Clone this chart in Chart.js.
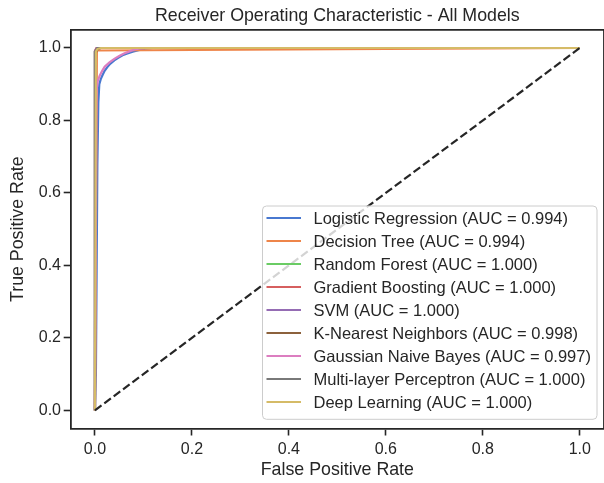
<!DOCTYPE html>
<html>
<head>
<meta charset="utf-8">
<title>ROC - All Models</title>
<script src="https://cdn.jsdelivr.net/npm/chart.js@4.4.0/dist/chart.umd.min.js"></script>
<style>
  html, body { margin: 0; padding: 0; background: #fff; }
  #wrap { width: 604px; height: 483px; }
</style>
</head>
<body>
<div id="wrap"><canvas id="rocChart" width="604" height="483"></canvas></div>
<script>
// Model names and AUC values (legend order)
const modelNames = [
    'Logistic Regression', 'Decision Tree', 'Random Forest', 'Gradient Boosting', 'SVM',
    'K-Nearest Neighbors', 'Gaussian Naive Bayes', 'Multi-layer Perceptron', 'Deep Learning'
];
const aucValues = ['0.994', '0.994', '1.000', '1.000', '1.000', '0.998', '0.997', '1.000', '1.000'];
const modelColors = ['#4878d0', '#ee854a', '#6acc64', '#d65f5f', '#956cb4', '#8c613c', '#dc7ec0', '#797979', '#d5bb67'];

// ROC points
const fprLogistic = [0, 0.002, 0.005, 0.007, 0.009, 0.012, 0.016, 0.02, 0.026, 0.032, 0.04, 0.048, 0.057, 0.067, 0.078, 0.09, 0.104, 0.12, 1];
const tprLogistic = [0, 0.10, 0.68, 0.85, 0.90, 0.914, 0.926, 0.937, 0.948, 0.957, 0.966, 0.973, 0.980, 0.985, 0.990, 0.994, 0.998, 1, 1];
const fprTree = [0, 0.004, 1];
const tprTree = [0, 0.993, 1];
const fprForest = [0, 0, 0.004, 1];
const tprForest = [0, 0.99, 1, 1];
const fprBoosting = [0, 0, 0.003, 1];
const tprBoosting = [0, 0.992, 1, 1];
const fprSvm = [0, 0, 0.004, 1];
const tprSvm = [0, 0.99, 1, 1];
const fprKnn = [0, 0.001, 0.005, 0.012, 1];
const tprKnn = [0, 0.985, 0.996, 1, 1];
const fprBayes = [0, 0.003, 0.006, 0.01, 0.015, 0.02, 0.03, 0.04, 0.05, 0.06, 0.07, 0.08, 0.092, 0.11, 1];
const tprBayes = [0, 0.88, 0.91, 0.924, 0.937, 0.948, 0.960, 0.970, 0.978, 0.985, 0.990, 0.995, 0.999, 1, 1];
const fprMlp = [0, 0, 0.005, 1];
const tprMlp = [0, 0.99, 1, 1];
const fprDeep = [0, 0.002, 0.005, 0.012, 1];
const tprDeep = [0, 0.99, 0.997, 1, 1];
const fprChance = [0, 1];
const tprChance = [0, 1];

const xTicks = [0, 0.2, 0.4, 0.6, 0.8, 1.0];
const yTicks = [0, 0.2, 0.4, 0.6, 0.8, 1.0];

const fprList = [fprLogistic, fprTree, fprForest, fprBoosting, fprSvm, fprKnn, fprBayes, fprMlp, fprDeep];
const tprList = [tprLogistic, tprTree, tprForest, tprBoosting, tprSvm, tprKnn, tprBayes, tprMlp, tprDeep];

const FONT = "'Liberation Sans', Arial, sans-serif";
const INK = '#262626';

function toPoints(fpr, tpr) {
    return fpr.map((x, i) => ({ x: x, y: tpr[i] }));
}

const datasets = modelNames.map((name, i) => ({
    label: name + ' (AUC = ' + aucValues[i] + ')',
    data: toPoints(fprList[i], tprList[i]),
    borderColor: modelColors[i],
    backgroundColor: modelColors[i],
    borderWidth: 2.2,
    showLine: true,
    pointRadius: 0,
    tension: 0,
    order: modelNames.length - i
}));

datasets.push({
    label: 'chance',
    data: toPoints(fprChance, tprChance),
    borderColor: INK,
    borderWidth: 2.2,
    borderDash: [8.2, 3.5],
    showLine: true,
    pointRadius: 0,
    order: 0
});

// frame (top/right spines) and legend in the lower right of the plot
const framePlugin = {
    id: 'frame',
    afterDraw(chart) {
        const ctx = chart.ctx;
        const a = chart.chartArea;
        ctx.save();
        ctx.strokeStyle = INK;
        ctx.lineWidth = 1.8;
        ctx.beginPath();
        ctx.moveTo(a.left, a.top);
        ctx.lineTo(a.right, a.top);
        ctx.lineTo(a.right, a.bottom);
        ctx.stroke();

        // legend box
        const bx = 262.5, by = 206, bw = 334.5, bh = 213.3, r = 4;
        ctx.beginPath();
        ctx.roundRect(bx, by, bw, bh, r);
        ctx.fillStyle = 'rgba(255,255,255,0.8)';
        ctx.fill();
        ctx.strokeStyle = '#cccccc';
        ctx.lineWidth = 1;
        ctx.stroke();

        ctx.font = '16.5px ' + FONT;
        ctx.textBaseline = 'middle';
        modelNames.forEach((name, i) => {
            const y = 218 + i * 23;
            ctx.strokeStyle = modelColors[i];
            ctx.lineWidth = 2.2;
            ctx.beginPath();
            ctx.moveTo(266.5, y);
            ctx.lineTo(301, y);
            ctx.stroke();
            ctx.fillStyle = INK;
            ctx.fillText(name + ' (AUC = ' + aucValues[i] + ')', 313.5, y + 1);
        });
        ctx.restore();
    }
};

new Chart(document.getElementById('rocChart'), {
    type: 'scatter',
    data: { datasets: datasets },
    options: {
        responsive: false,
        animation: false,
        devicePixelRatio: 1,
        layout: { padding: { left: 0, right: 0, top: 0, bottom: 0 } },
        plugins: {
            legend: { display: false },
            tooltip: { enabled: false },
            title: {
                display: true,
                text: 'Receiver Operating Characteristic - All Models',
                color: INK,
                fullSize: false,
                font: { family: FONT, size: 17.8, weight: 'normal' },
                padding: { top: 5, bottom: 3.5 }
            }
        },
        scales: {
            x: {
                type: 'linear',
                min: -0.05,
                max: 1.05,
                afterBuildTicks: scale => { scale.ticks = xTicks.map(v => ({ value: v })); },
                afterFit: scale => { scale.height = 54.5; },
                grid: { drawOnChartArea: false, drawTicks: true, tickLength: 7, tickColor: INK, tickWidth: 1.6 },
                border: { display: true, color: INK, width: 1.8 },
                ticks: {
                    color: INK,
                    padding: 4,
                    font: { family: FONT, size: 16 },
                    callback: v => v.toFixed(1)
                },
                title: {
                    display: true,
                    text: 'False Positive Rate',
                    color: INK,
                    font: { family: FONT, size: 17.8 },
                    padding: { top: 0, bottom: 2.3 }
                }
            },
            y: {
                type: 'linear',
                min: -0.05,
                max: 1.05,
                afterBuildTicks: scale => { scale.ticks = yTicks.map(v => ({ value: v })); },
                afterFit: scale => { scale.width = 70.7; },
                grid: { drawOnChartArea: false, drawTicks: true, tickLength: 7, tickColor: INK, tickWidth: 1.6 },
                border: { display: true, color: INK, width: 1.8 },
                ticks: {
                    color: INK,
                    padding: 2.7,
                    font: { family: FONT, size: 16 },
                    callback: v => v.toFixed(1)
                },
                title: {
                    display: true,
                    text: 'True Positive Rate',
                    color: INK,
                    font: { family: FONT, size: 17.8 },
                    padding: { top: 7.8, bottom: 0 }
                }
            }
        }
    },
    plugins: [framePlugin]
});
</script>
</body>
</html>
